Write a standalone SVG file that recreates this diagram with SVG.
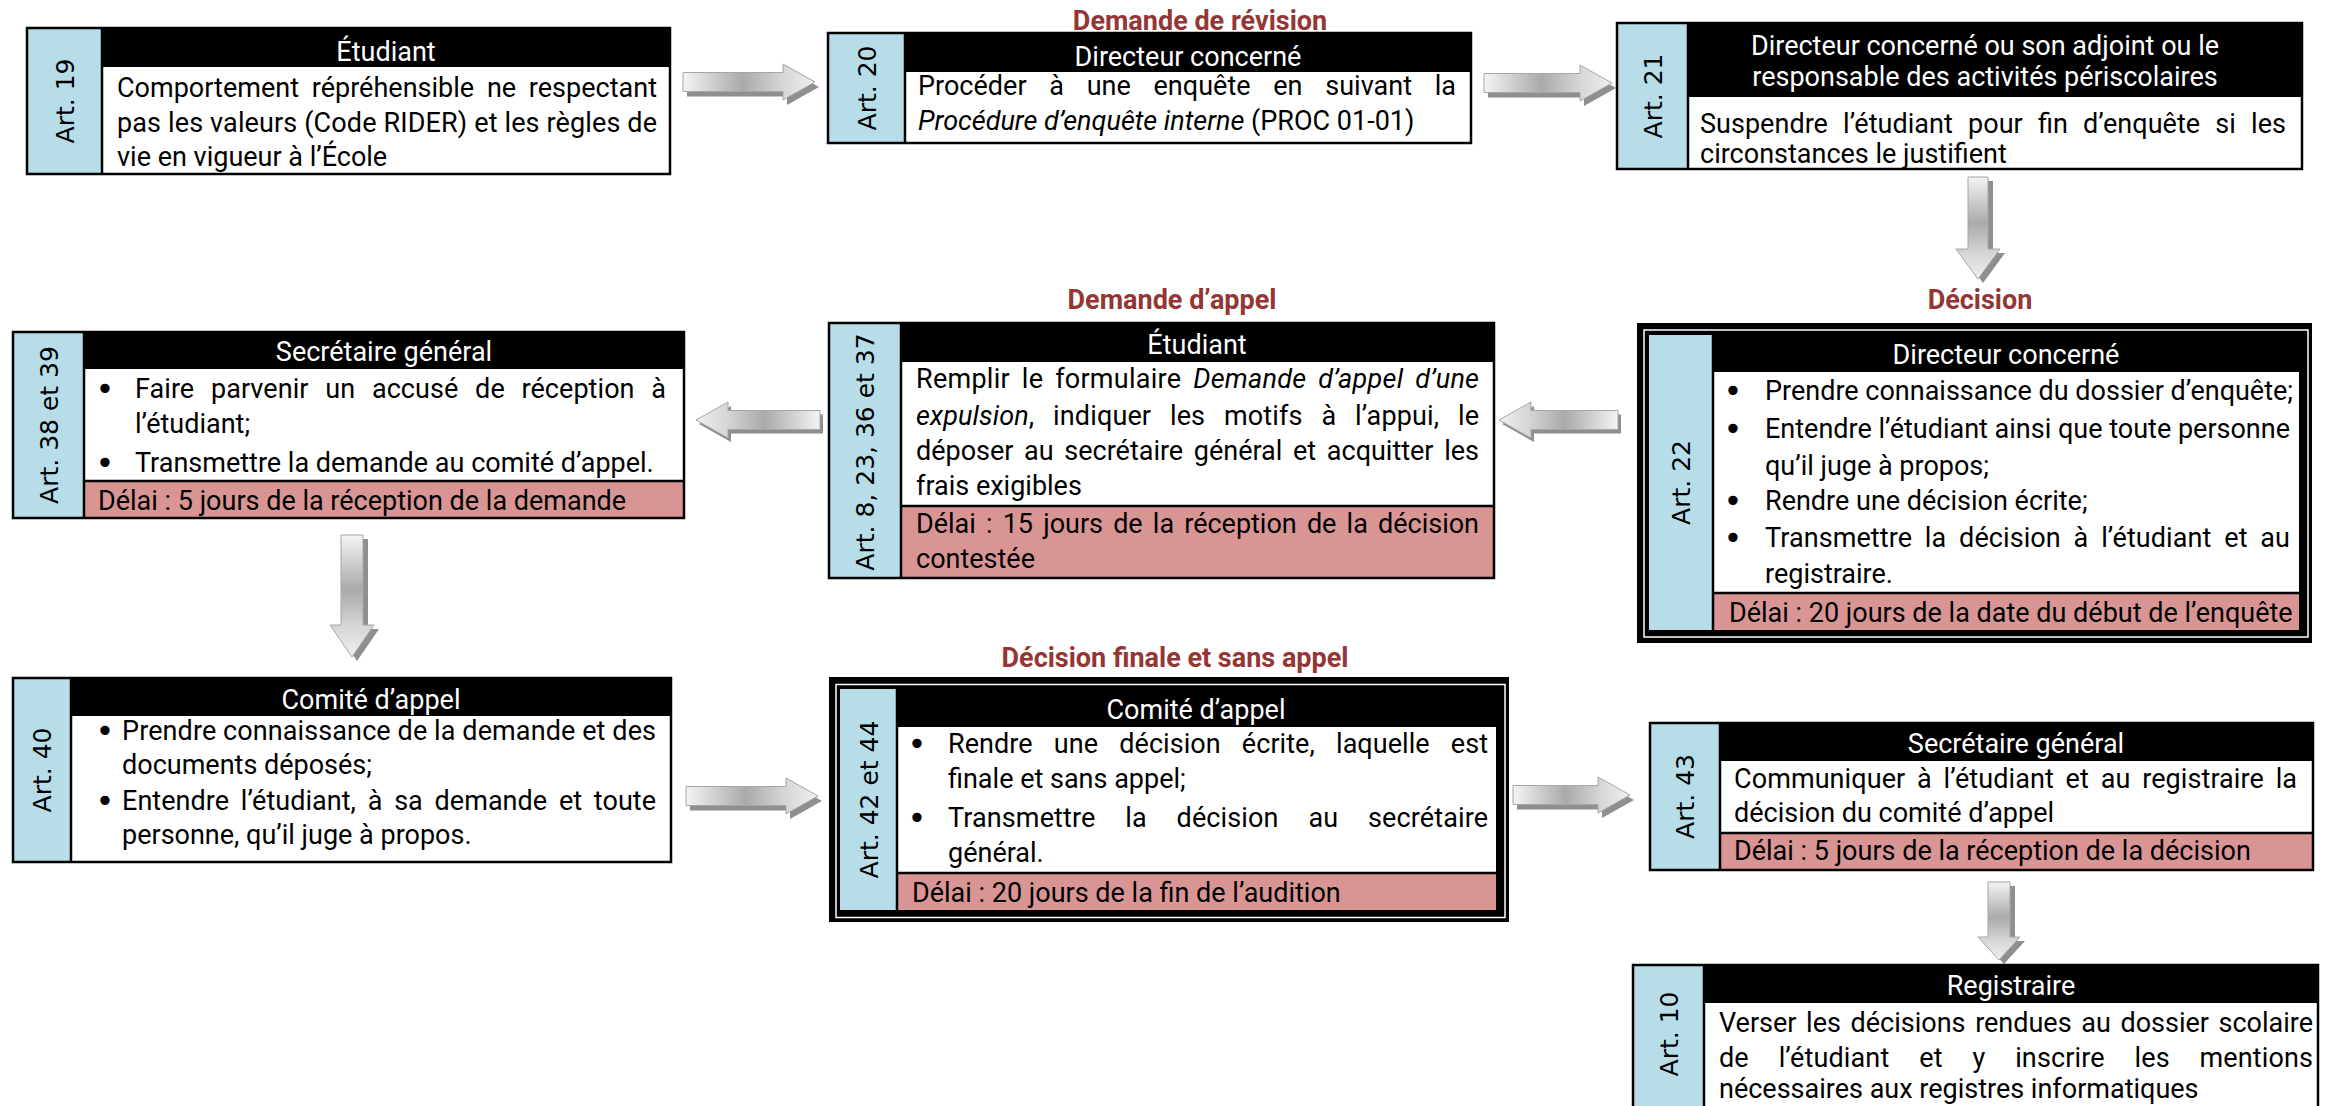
<svg xmlns="http://www.w3.org/2000/svg" width="2332" height="1106" viewBox="0 0 2332 1106">
<style>
.bg{fill:#ffffff}
.art{fill:#B6DDE8}
.hdr{fill:#000000}
.del{fill:#D99594}
.frame{fill:none;stroke:#000;stroke-width:2.5}
.sep{stroke:#000;stroke-width:2.5}
.t{font-family:Roboto,"Liberation Sans",sans-serif;font-size:27px;fill:#000}
.h{font-family:Roboto,"Liberation Sans",sans-serif;font-size:27px;fill:#fff;text-anchor:middle}
.a{font-family:"DejaVu Sans",Verdana,sans-serif;font-size:25px;fill:#000;text-anchor:middle}
.lbl{font-family:Roboto,"Liberation Sans",sans-serif;font-size:27px;font-weight:bold;fill:#943634;text-anchor:middle}
.bul{font-family:"DejaVu Sans",sans-serif;font-size:32px;fill:#000;text-anchor:middle}
.i{font-style:italic}
.sh{fill:#8f8f8f}
.arR{fill:url(#gR);stroke:#a6a6a6;stroke-width:1}
.arL{fill:url(#gL);stroke:#a6a6a6;stroke-width:1}
.arD{fill:url(#gD);stroke:#a6a6a6;stroke-width:1}
</style>
<defs>
<linearGradient id="gR" x1="0" y1="0" x2="1" y2="0">
<stop offset="0" stop-color="#f4f4f4"/><stop offset="0.45" stop-color="#aaaaaa"/><stop offset="0.75" stop-color="#d6d6d6"/><stop offset="1" stop-color="#efefef"/>
</linearGradient>
<linearGradient id="gL" x1="1" y1="0" x2="0" y2="0">
<stop offset="0" stop-color="#f4f4f4"/><stop offset="0.45" stop-color="#aaaaaa"/><stop offset="0.75" stop-color="#d6d6d6"/><stop offset="1" stop-color="#efefef"/>
</linearGradient>
<linearGradient id="gD" x1="0" y1="0" x2="0" y2="1">
<stop offset="0" stop-color="#f4f4f4"/><stop offset="0.45" stop-color="#aaaaaa"/><stop offset="0.75" stop-color="#d6d6d6"/><stop offset="1" stop-color="#efefef"/>
</linearGradient>
</defs>
<rect class="bg" x="0" y="0" width="2332" height="1106"/>

<g id="connectors">
<g id="arrow1"><path class="sh" transform="translate(4,5)" d="M683,72.5 L783,72.5 L783,64 L815,82 L783,100 L783,91.5 L683,91.5 Z"/><path class="arR" d="M683,72.5 L783,72.5 L783,64 L815,82 L783,100 L783,91.5 L683,91.5 Z"/></g>
<g id="arrow2"><path class="sh" transform="translate(4,5)" d="M1484,73.5 L1580,73.5 L1580,65 L1612,83 L1580,101 L1580,92.5 L1484,92.5 Z"/><path class="arR" d="M1484,73.5 L1580,73.5 L1580,65 L1612,83 L1580,101 L1580,92.5 L1484,92.5 Z"/></g>
<g id="arrow3"><path class="sh" transform="translate(5,4)" d="M1968,177 L1988,177 L1988,249 L2000,249 L1978,279 L1956,249 L1968,249 Z"/><path class="arD" d="M1968,177 L1988,177 L1988,249 L2000,249 L1978,279 L1956,249 L1968,249 Z"/></g>
<g id="arrow4"><path class="sh" transform="translate(3,4)" d="M1618,410.5 L1531,410.5 L1531,402 L1499,420 L1531,438 L1531,429.5 L1618,429.5 Z"/><path class="arL" d="M1618,410.5 L1531,410.5 L1531,402 L1499,420 L1531,438 L1531,429.5 L1618,429.5 Z"/></g>
<g id="arrow5"><path class="sh" transform="translate(3,4)" d="M820,410.5 L728,410.5 L728,402 L696,420 L728,438 L728,429.5 L820,429.5 Z"/><path class="arL" d="M820,410.5 L728,410.5 L728,402 L696,420 L728,438 L728,429.5 L820,429.5 Z"/></g>
<g id="arrow6"><path class="sh" transform="translate(5,4)" d="M341,535 L363,535 L363,625 L374,625 L352,657 L330,625 L341,625 Z"/><path class="arD" d="M341,535 L363,535 L363,625 L374,625 L352,657 L330,625 L341,625 Z"/></g>
<g id="arrow7"><path class="sh" transform="translate(4,5)" d="M686,786.5 L786,786.5 L786,778 L818,796 L786,814 L786,805.5 L686,805.5 Z"/><path class="arR" d="M686,786.5 L786,786.5 L786,778 L818,796 L786,814 L786,805.5 L686,805.5 Z"/></g>
<g id="arrow8"><path class="sh" transform="translate(4,5)" d="M1513,785.5 L1598,785.5 L1598,777 L1630,795 L1598,813 L1598,804.5 L1513,804.5 Z"/><path class="arR" d="M1513,785.5 L1598,785.5 L1598,777 L1630,795 L1598,813 L1598,804.5 L1513,804.5 Z"/></g>
<g id="arrow9"><path class="sh" transform="translate(5,4)" d="M1988,882 L2010,882 L2010,937 L2020,937 L1999,960 L1978,937 L1988,937 Z"/><path class="arD" d="M1988,882 L2010,882 L2010,937 L2020,937 L1999,960 L1978,937 L1988,937 Z"/></g>
</g>

<g id="labels">
<text class="lbl" x="1200" y="30">Demande de révision</text>
<text class="lbl" x="1172" y="309">Demande d’appel</text>
<text class="lbl" x="1980" y="309">Décision</text>
<text class="lbl" x="1175" y="667">Décision finale et sans appel</text>
</g>

<g id="node-art19">
<rect class="art" x="27" y="28" width="75" height="146"/>
<rect class="hdr" x="102" y="28" width="568" height="39"/>
<line class="sep" x1="102" y1="28" x2="102" y2="174"/>
<rect class="frame" x="27" y="28" width="643" height="146"/>
<text class="a" transform="translate(64.5,101) rotate(-90)" y="9">Art. 19</text>
<text class="h" x="386" y="61">Étudiant</text>
<text class="t" x="117" y="97" word-spacing="6" textLength="540" lengthAdjust="spacing">Comportement répréhensible ne respectant</text>
<text class="t" x="117" y="132" textLength="540" lengthAdjust="spacing">pas les valeurs (Code RIDER) et les règles de</text>
<text class="t" x="117" y="166">vie en vigueur à l’École</text>
</g>

<g id="node-art20">
<rect class="art" x="828" y="33" width="77" height="110"/>
<rect class="hdr" x="905" y="33" width="566" height="39"/>
<line class="sep" x1="905" y1="33" x2="905" y2="143"/>
<rect class="frame" x="828" y="33" width="643" height="110"/>
<text class="a" transform="translate(866.5,88) rotate(-90)" y="9">Art. 20</text>
<text class="h" x="1188" y="66">Directeur concerné</text>
<text class="t" x="918" y="95" word-spacing="16" textLength="538" lengthAdjust="spacing">Procéder à une enquête en suivant la</text>
<text class="t" x="918" y="130"><tspan class="i">Procédure d’enquête interne</tspan> (PROC 01-01)</text>
</g>

<g id="node-art21">
<rect class="art" x="1617" y="23" width="71" height="146"/>
<rect class="hdr" x="1688" y="23" width="614" height="74"/>
<line class="sep" x1="1688" y1="23" x2="1688" y2="169"/>
<rect class="frame" x="1617" y="23" width="685" height="146"/>
<text class="a" transform="translate(1652.5,96) rotate(-90)" y="9">Art. 21</text>
<text class="h" x="1985" y="55">Directeur concerné ou son adjoint ou le</text>
<text class="h" x="1985" y="86">responsable des activités périscolaires</text>
<text class="t" x="1700" y="133" word-spacing="8.5" textLength="586" lengthAdjust="spacing">Suspendre l’étudiant pour fin d’enquête si les</text>
<text class="t" x="1700" y="163">circonstances le justifient</text>
</g>

<g id="node-art38-39">
<rect class="art" x="13" y="332" width="71" height="186"/>
<rect class="hdr" x="84" y="332" width="600" height="37"/>
<rect class="del" x="84" y="481" width="600" height="37"/>
<line class="sep" x1="84" y1="332" x2="84" y2="518"/>
<line class="sep" x1="84" y1="481" x2="684" y2="481"/>
<rect class="frame" x="13" y="332" width="671" height="186"/>
<text class="a" transform="translate(48.5,425) rotate(-90)" y="9">Art. 38 et 39</text>
<text class="h" x="384" y="361">Secrétaire général</text>
<text class="bul" x="105" y="400">•</text>
<text class="t" x="135" y="398" word-spacing="10" textLength="531" lengthAdjust="spacing">Faire parvenir un accusé de réception à</text>
<text class="t" x="135" y="433">l’étudiant;</text>
<text class="bul" x="105" y="474">•</text>
<text class="t" x="135" y="472">Transmettre la demande au comité d’appel.</text>
<text class="t" x="98" y="510">Délai : 5 jours de la réception de la demande</text>
</g>

<g id="node-art8-23-36-37">
<rect class="art" x="829" y="323" width="72" height="255"/>
<rect class="hdr" x="901" y="323" width="593" height="39"/>
<rect class="del" x="901" y="506" width="593" height="72"/>
<line class="sep" x1="901" y1="323" x2="901" y2="578"/>
<line class="sep" x1="901" y1="506" x2="1494" y2="506"/>
<rect class="frame" x="829" y="323" width="665" height="255"/>
<text class="a" transform="translate(865,452) rotate(-90)" y="9">Art. 8, 23, 36 et 37</text>
<text class="h" x="1197" y="354">Étudiant</text>
<text class="t" x="916" y="388" word-spacing="5" textLength="563" lengthAdjust="spacing">Remplir le formulaire <tspan class="i">Demande d’appel d’une</tspan></text>
<text class="t" x="916" y="425" word-spacing="12" textLength="563" lengthAdjust="spacing"><tspan class="i">expulsion</tspan>, indiquer les motifs à l’appui, le</text>
<text class="t" x="916" y="460" word-spacing="4" textLength="563" lengthAdjust="spacing">déposer au secrétaire général et acquitter les</text>
<text class="t" x="916" y="495">frais exigibles</text>
<text class="t" x="916" y="533" word-spacing="3.5" textLength="563" lengthAdjust="spacing">Délai : 15 jours de la réception de la décision</text>
<text class="t" x="916" y="568">contestée</text>
</g>

<g id="node-art22">
<rect class="hdr" x="1637" y="323" width="675" height="320"/>
<rect x="1644" y="330" width="664" height="307" fill="none" stroke="#fff" stroke-width="1.5"/>
<rect fill="#fff" x="1649" y="335" width="650" height="295"/>
<rect class="art" x="1649" y="335" width="64" height="295"/>
<rect class="hdr" x="1713" y="335" width="586" height="37"/>
<rect class="del" x="1713" y="593" width="586" height="37"/>
<line class="sep" x1="1713" y1="335" x2="1713" y2="630"/>
<line class="sep" x1="1713" y1="593" x2="2299" y2="593"/>
<text class="a" transform="translate(1681,482.5) rotate(-90)" y="9">Art. 22</text>
<text class="h" x="2006" y="364">Directeur concerné</text>
<text class="bul" x="1733" y="402">•</text>
<text class="t" x="1765" y="400">Prendre connaissance du dossier d’enquête;</text>
<text class="bul" x="1733" y="440">•</text>
<text class="t" x="1765" y="438" textLength="525" lengthAdjust="spacing">Entendre l’étudiant ainsi que toute personne</text>
<text class="t" x="1765" y="475">qu’il juge à propos;</text>
<text class="bul" x="1733" y="512">•</text>
<text class="t" x="1765" y="510">Rendre une décision écrite;</text>
<text class="bul" x="1733" y="549">•</text>
<text class="t" x="1765" y="547" word-spacing="6" textLength="525" lengthAdjust="spacing">Transmettre la décision à l’étudiant et au</text>
<text class="t" x="1765" y="583">registraire.</text>
<text class="t" x="1729" y="622">Délai : 20 jours de la date du début de l’enquête</text>
</g>

<g id="node-art40">
<rect class="art" x="13" y="678" width="58" height="184"/>
<rect class="hdr" x="71" y="678" width="600" height="38"/>
<line class="sep" x1="71" y1="678" x2="71" y2="862"/>
<rect class="frame" x="13" y="678" width="658" height="184"/>
<text class="a" transform="translate(42,770) rotate(-90)" y="9">Art. 40</text>
<text class="h" x="371" y="709">Comité d’appel</text>
<text class="bul" x="105" y="742">•</text>
<text class="t" x="122" y="740" textLength="534" lengthAdjust="spacing">Prendre connaissance de la demande et des</text>
<text class="t" x="122" y="774">documents déposés;</text>
<text class="bul" x="105" y="812">•</text>
<text class="t" x="122" y="810" word-spacing="5" textLength="534" lengthAdjust="spacing">Entendre l’étudiant, à sa demande et toute</text>
<text class="t" x="122" y="844">personne, qu’il juge à propos.</text>
</g>

<g id="node-art42-44">
<rect class="hdr" x="829" y="677" width="680" height="245"/>
<rect x="836" y="684.5" width="669" height="233" fill="none" stroke="#fff" stroke-width="1.5"/>
<rect fill="#fff" x="840" y="689" width="656" height="221"/>
<rect class="art" x="840" y="689" width="57" height="221"/>
<rect class="hdr" x="897" y="689" width="599" height="38"/>
<rect class="del" x="897" y="873" width="599" height="37"/>
<line class="sep" x1="897" y1="689" x2="897" y2="910"/>
<line class="sep" x1="897" y1="873" x2="1496" y2="873"/>
<text class="a" transform="translate(868.5,799.5) rotate(-90)" y="9">Art. 42 et 44</text>
<text class="h" x="1196" y="719">Comité d’appel</text>
<text class="bul" x="917" y="755">•</text>
<text class="t" x="948" y="753" word-spacing="14.5" textLength="540" lengthAdjust="spacing">Rendre une décision écrite, laquelle est</text>
<text class="t" x="948" y="788">finale et sans appel;</text>
<text class="bul" x="917" y="829">•</text>
<text class="t" x="948" y="827" word-spacing="23" textLength="540" lengthAdjust="spacing">Transmettre la décision au secrétaire</text>
<text class="t" x="948" y="862">général.</text>
<text class="t" x="912" y="902">Délai : 20 jours de la fin de l’audition</text>
</g>

<g id="node-art43">
<rect class="art" x="1650" y="723" width="70" height="147"/>
<rect class="hdr" x="1720" y="723" width="593" height="38"/>
<rect class="del" x="1720" y="833" width="593" height="37"/>
<line class="sep" x1="1720" y1="723" x2="1720" y2="870"/>
<line class="sep" x1="1720" y1="833" x2="2313" y2="833"/>
<rect class="frame" x="1650" y="723" width="663" height="147"/>
<text class="a" transform="translate(1685,796.5) rotate(-90)" y="9">Art. 43</text>
<text class="h" x="2016" y="753">Secrétaire général</text>
<text class="t" x="1734" y="788" word-spacing="5" textLength="563" lengthAdjust="spacing">Communiquer à l’étudiant et au registraire la</text>
<text class="t" x="1734" y="822">décision du comité d’appel</text>
<text class="t" x="1734" y="860">Délai : 5 jours de la réception de la décision</text>
</g>

<g id="node-art10">
<rect class="art" x="1633" y="965" width="71" height="150"/>
<rect class="hdr" x="1704" y="965" width="614" height="38"/>
<line class="sep" x1="1704" y1="965" x2="1704" y2="1115"/>
<rect class="frame" x="1633" y="965" width="685" height="150"/>
<text class="a" transform="translate(1668.5,1034) rotate(-90)" y="9">Art. 10</text>
<text class="h" x="2011" y="995">Registraire</text>
<text class="t" x="1719" y="1032" word-spacing="3" textLength="594" lengthAdjust="spacing">Verser les décisions rendues au dossier scolaire</text>
<text class="t" x="1719" y="1067" word-spacing="23" textLength="594" lengthAdjust="spacing">de l’étudiant et y inscrire les mentions</text>
<text class="t" x="1719" y="1098">nécessaires aux registres informatiques</text>
</g>
</svg>
